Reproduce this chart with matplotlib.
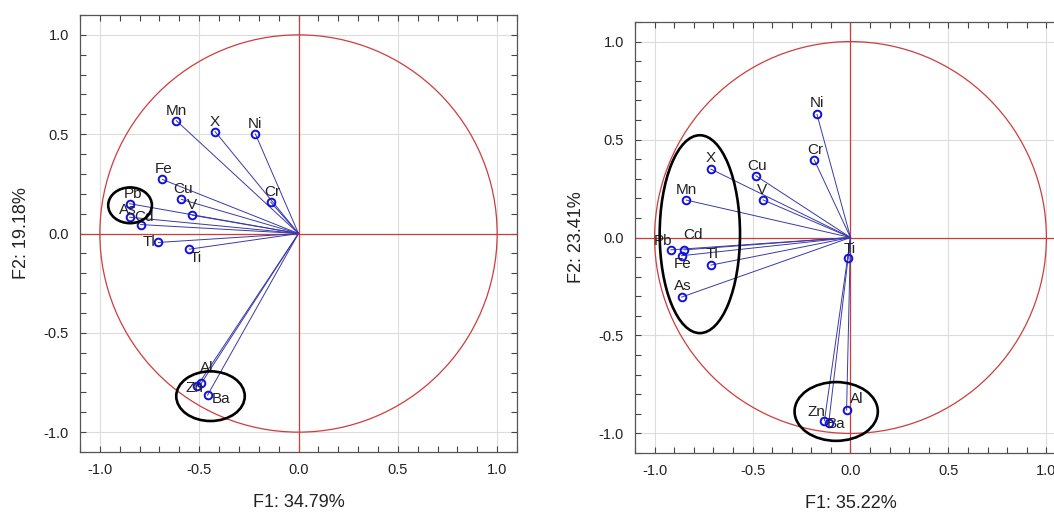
import numpy as np
import matplotlib
matplotlib.use("Agg")
import matplotlib.pyplot as plt
from matplotlib.patches import Circle, Ellipse
from matplotlib.ticker import MultipleLocator

plt.rcParams["font.family"] = ["Liberation Sans", "DejaVu Sans"]

# Left panel loadings
left_names = ["Mn", "X", "Ni", "Fe", "Cu", "Cr", "V", "Pb", "As", "Cd", "Tl", "Ti", "Al", "Zn", "Ba"]
left_f1 = [-0.615, -0.42, -0.217, -0.685, -0.59, -0.14, -0.535, -0.85, -0.85, -0.795, -0.705, -0.55, -0.49, -0.51, -0.458]
left_f2 = [0.568, 0.513, 0.501, 0.272, 0.172, 0.158, 0.092, 0.150, 0.082, 0.045, -0.045, -0.079, -0.755, -0.768, -0.814]
left_xlabel = "F1: 34.79%"
left_ylabel = "F2: 19.18%"

# Right panel loadings
right_names = ["Ni", "Cr", "X", "Cu", "V", "Mn", "Pb", "Cd", "Fe", "Tl", "As", "Ti", "Al", "Zn", "Ba"]
right_f1 = [-0.171, -0.185, -0.712, -0.483, -0.446, -0.838, -0.917, -0.848, -0.862, -0.712, -0.862, -0.013, -0.02, -0.133, -0.111]
right_f2 = [0.628, 0.396, 0.349, 0.315, 0.192, 0.191, -0.063, -0.063, -0.093, -0.141, -0.304, -0.107, -0.881, -0.935, -0.945]
right_xlabel = "F1: 35.22%"
right_ylabel = "F2: 23.41%"

# label offsets in pixels (dx, dy)
left_offsets = {"Mn": (0, 10), "X": (0, 10), "Ni": (0, 10), "Fe": (1, 10), "Cu": (2, 10),
                "Cr": (2, 10), "V": (0, 10), "Pb": (3, 10), "As": (-2, 7), "Cd": (3, 8),
                "Tl": (-9, 0), "Ti": (6, -9), "Al": (6, 15), "Zn": (-3, -2), "Ba": (14, -4)}
right_offsets = {"Ni": (0, 11), "Cr": (1, 10), "X": (0, 11), "Cu": (1, 10), "V": (-1, 10),
                 "Mn": (0, 10), "Pb": (-8, 9), "Cd": (9, 15), "Fe": (1, -8), "Tl": (1, 11),
                 "As": (1, 11), "Ti": (2, 9), "Al": (10, 11), "Zn": (-8, 9), "Ba": (7, -1)}

# ellipses: (cx, cy, width, height)
left_ellipses = [(-0.848, 0.142, 0.22, 0.18), (-0.443, -0.819, 0.345, 0.25)]
right_ellipses = [(-0.769, 0.017, 0.41, 1.01), (-0.073, -0.888, 0.425, 0.30)]

W, H = 1054, 515
fig = plt.figure(figsize=(W / 100, H / 100), dpi=100)
ax1 = fig.add_axes([80 / W, 63 / H, 437 / W, 437 / H])
ax2 = fig.add_axes([635 / W, 62 / H, 431 / W, 431 / H])


def draw(ax, names, f1, f2, offsets, ellipses, xlabel, ylabel):
    ax.set_axisbelow(True)
    ax.set_xlim(-1.1, 1.1)
    ax.set_ylim(-1.1, 1.1)
    ax.xaxis.set_major_locator(MultipleLocator(0.5))
    ax.yaxis.set_major_locator(MultipleLocator(0.5))
    ax.xaxis.set_minor_locator(MultipleLocator(0.1))
    ax.yaxis.set_minor_locator(MultipleLocator(0.1))
    ax.xaxis.set_major_formatter(lambda v, p: f"{v:.1f}")
    ax.yaxis.set_major_formatter(lambda v, p: f"{v:.1f}")
    ax.grid(True, which="major", color="#dcdcdc", lw=0.8)
    ax.tick_params(which="both", direction="in", top=True, right=True, length=4,
                   width=0.8, color="#444444", labelsize=10.5, labelcolor="#222222", pad=8)
    for s in ax.spines.values():
        s.set_color("#555555")
        s.set_linewidth(0.9)
    ax.axhline(0, color="#d03c3c", lw=0.9, zorder=1.8)
    ax.axvline(0, color="#d03c3c", lw=0.9, zorder=1.8)
    ax.add_patch(Circle((0, 0), 1.0, fill=False, ec="#d03c3c", lw=0.9, zorder=1.8))
    for n, x, y in zip(names, f1, f2):
        ax.plot([0, x], [0, y], color="#3a3aa8", lw=0.7, zorder=2)
    ax.plot(f1, f2, "o", ms=5.5, mfc="none", mec="#1010e0", mew=1.4, ls="none", zorder=3)
    for n, x, y in zip(names, f1, f2):
        dx, dy = offsets[n]
        ax.annotate(n, (x, y), xytext=(dx, dy), textcoords="offset pixels",
                    ha="center", va="center", fontsize=11, color="#222222", zorder=4)
    for cx, cy, w, h in ellipses:
        ax.add_patch(Ellipse((cx, cy), w, h, fill=False, ec="black", lw=1.9, zorder=5))
    ax.set_xlabel(xlabel, fontsize=13, color="#222222", labelpad=12)
    ax.set_ylabel(ylabel, fontsize=13, color="#222222", labelpad=10)


draw(ax1, left_names, left_f1, left_f2, left_offsets, left_ellipses, left_xlabel, left_ylabel)
draw(ax2, right_names, right_f1, right_f2, right_offsets, right_ellipses, right_xlabel, right_ylabel)

fig.savefig("out.png", dpi=100)
